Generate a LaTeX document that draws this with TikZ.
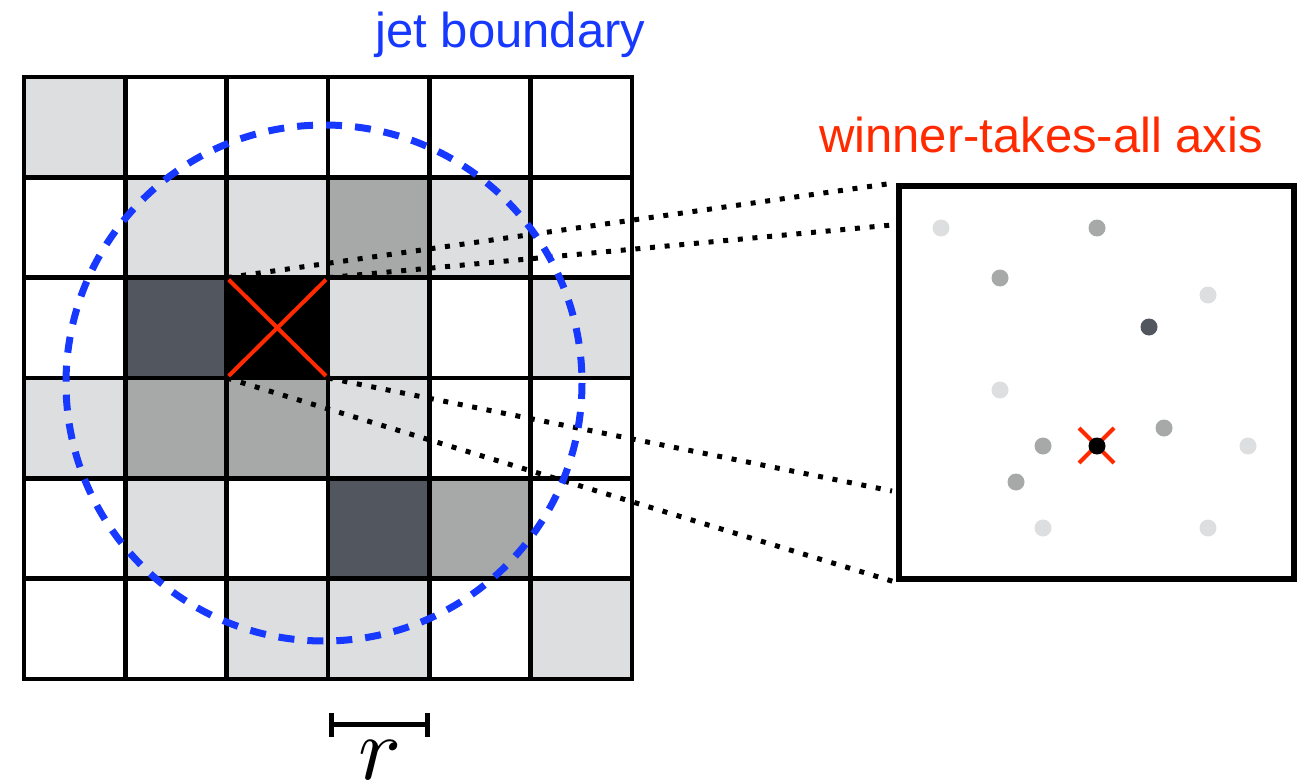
\documentclass[tikz,border=0pt]{standalone}
\usepackage{fontspec}
\setmainfont{Liberation Sans}
\usepackage{unicode-math}
\setmathfont{Latin Modern Math}
\usetikzlibrary{calc}
\definecolor{greyL}{HTML}{DDDEE0}
\definecolor{greyM}{HTML}{A6A9A8}
\definecolor{greyD}{HTML}{52565E}
\definecolor{jblue}{HTML}{1638FF}
\definecolor{wred}{HTML}{FF2A00}
\tikzset{
  gridline/.style={line width=4.6pt, black},
  dotline/.style={line width=5pt, black, dash pattern=on 5pt off 9.7pt},
  jetcircle/.style={line width=7pt, jblue, dash pattern=on 16pt off 13pt},
  redx/.style={line width=4pt, wred},
  pdot/.style={circle, inner sep=0pt, minimum size=17pt},
  lbl/.style={anchor=base, inner sep=0pt, font=\fontsize{49}{56}\selectfont},
}
\begin{document}
\begin{tikzpicture}[x=1pt,y=-1pt]
\useasboundingbox (0,0) rectangle (1310,784);
\def\cw{101.33}
\def\ch{100.33}
% cell fills: \fillcell{col}{row}{color}
\newcommand\fillcell[3]{\fill[#3] ({24+#1*\cw},{77+#2*\ch}) rectangle ({24+(#1+1)*\cw},{77+(#2+1)*\ch});}
\fillcell{0}{0}{greyL}
\fillcell{1}{1}{greyL}\fillcell{2}{1}{greyL}\fillcell{3}{1}{greyM}\fillcell{4}{1}{greyL}
\fillcell{1}{2}{greyD}\fillcell{2}{2}{black}\fillcell{3}{2}{greyL}\fillcell{5}{2}{greyL}
\fillcell{0}{3}{greyL}\fillcell{1}{3}{greyM}\fillcell{2}{3}{greyM}\fillcell{3}{3}{greyL}
\fillcell{1}{4}{greyL}\fillcell{3}{4}{greyD}\fillcell{4}{4}{greyM}
\fillcell{2}{5}{greyL}\fillcell{3}{5}{greyL}\fillcell{5}{5}{greyL}
% grid
\foreach \i in {0,...,6}{
  \draw[gridline, line cap=rect] ({24+\i*\cw},77) -- ({24+\i*\cw},{77+6*\ch});
  \draw[gridline, line cap=rect] (24,{77+\i*\ch}) -- ({24+6*\cw},{77+\i*\ch});
}
% black cell corners
\coordinate (btl) at ({24+2*\cw},{77+2*\ch});
\coordinate (btr) at ({24+3*\cw},{77+2*\ch});
\coordinate (bbl) at ({24+2*\cw},{77+3*\ch});
\coordinate (bbr) at ({24+3*\cw},{77+3*\ch});
% zoom box
\node[draw, line width=6.5pt, minimum width=395pt, minimum height=393pt, inner sep=0pt] (zbox) at (1096.5,382.5) {};
\coordinate (ztl) at (zbox.north west);
\coordinate (zbl) at (zbox.south west);
\coordinate (zt2) at (892,225);
\coordinate (zb2) at (892,491);
% dotted lines
\draw[dotline] (btl) -- (ztl);
\draw[dotline] (btr) -- (zt2);
\draw[dotline] (bbr) -- (zb2);
\draw[dotline] (bbl) -- (zbl);
% jet circle
\draw[jetcircle] (324,383) circle (258);
% red x in cell
\draw[redx] ($(btl)+(2,2)$) -- ($(bbr)+(-2,-2)$);
\draw[redx] ($(btr)+(-2,2)$) -- ($(bbl)+(2,-2)$);
% particles
\node[pdot, fill=greyL] (p1) at (941,228) {};
\node[pdot, fill=greyM] (p2) at (1097,228) {};
\node[pdot, fill=greyM] (p3) at (1000,278) {};
\node[pdot, fill=greyL] (p4) at (1208,295) {};
\node[pdot, fill=greyD] (p5) at (1149,327) {};
\node[pdot, fill=greyL] (p6) at (1000,390) {};
\node[pdot, fill=greyM] (p7) at (1164,428) {};
\node[pdot, fill=greyL] (p8) at (1248,446) {};
\node[pdot, fill=greyM] (p9) at (1043,446) {};
\node[pdot, fill=greyM] (p10) at (1016,482) {};
\node[pdot, fill=greyL] (p11) at (1043,528) {};
\node[pdot, fill=greyL] (p12) at (1208,528) {};
\draw[line width=4pt, wred] (1079,428) -- (1114,463);
\draw[line width=4pt, wred] (1114,428) -- (1079,463);
\node[pdot, fill=black] (pw) at (1097,446) {};
% labels
\node[lbl, text=jblue] (jetlbl) at (510.5,48) {jet boundary};
\node[lbl, text=wred] (wtalbl) at (1041,152) {winner-takes-all axis};
% scale bar
\draw[line width=5pt] (331,724) -- (427,724);
\draw[line width=5pt] (331,713) -- (331,737);
\draw[line width=5pt] (427,713) -- (427,737);
\node[anchor=base, inner sep=0pt, font=\fontsize{90}{100}\selectfont] (rlbl) at (379,779) {$r$};
\end{tikzpicture}
\end{document}
